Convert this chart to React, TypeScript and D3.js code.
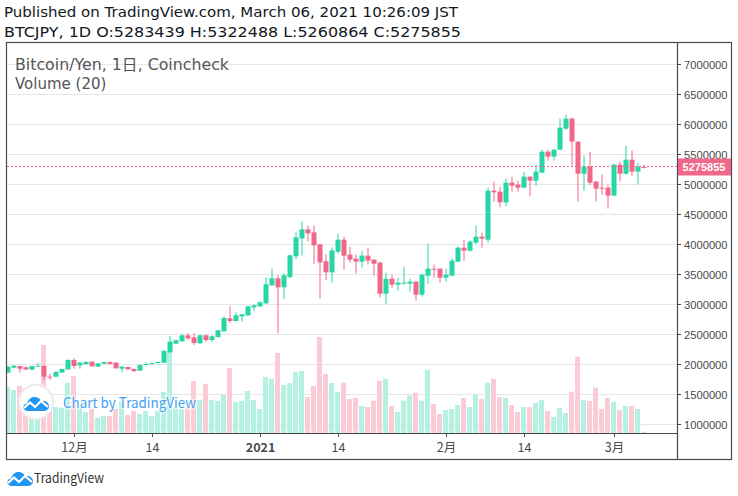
import { useEffect, useRef } from 'react';
import * as d3 from 'd3';

// BTCJPY daily, Coincheck, 2020-11-20 .. 2021-03-06
const startDay = new Date(Date.UTC(2020, 10, 20));
const endDay = new Date(Date.UTC(2021, 2, 6));

const opens = [
  1856000, 1939000, 1967000, 1944000, 1906000, 1956000, 1967000, 1789000, 1789000, 1856000, 1911000,
  2067000, 1978000, 2000000, 2039000, 1956000, 2006000, 2033000, 2022000, 1922000, 1950000, 1917000, 1889000, 1983000, 2000000, 2017000, 2022000,
  2194000, 2339000, 2378000, 2478000, 2444000, 2344000, 2478000, 2400000, 2450000, 2544000, 2761000, 2717000, 2794000, 2811000, 2944000,
  2961000, 3011000, 3311000, 3428000, 3278000, 3450000, 3794000, 4094000, 4244000, 4194000, 3994000, 3711000, 3528000, 3872000, 4072000,
  3822000, 3756000, 3706000, 3806000, 3739000, 3689000, 3172000, 3422000, 3322000, 3339000, 3339000, 3372000, 3156000, 3472000, 3589000, 3589000,
  3439000, 3472000, 3706000, 3939000, 3889000, 4022000, 4122000, 4072000, 4889000, 4872000, 4694000, 5022000, 4989000, 4939000, 5122000,
  5056000, 5189000, 5539000, 5456000, 5572000, 5922000, 6089000, 5706000, 5172000, 5289000, 5039000, 4939000, 4939000,
  4806000, 5322000, 5172000, 5406000, 5206000, 5283439,
];
const highs = [
  1962000, 1983000, 1970000, 1961000, 1970000, 2017000, 1983000, 1833000, 1883000, 1920000, 2078000,
  2100000, 2033000, 2050000, 2044000, 2017000, 2039000, 2039000, 2028000, 1967000, 1956000, 1922000, 1990000, 2033000, 2022000, 2044000, 2233000,
  2467000, 2411000, 2494000, 2511000, 2511000, 2480000, 2494000, 2478000, 2570000, 2794000, 2961000, 2861000, 2830000, 2970000, 2994000,
  3044000, 3444000, 3594000, 3478000, 3511000, 3820000, 4194000, 4378000, 4311000, 4311000, 4000000, 3828000, 3944000, 4172000, 4122000,
  3956000, 3822000, 3889000, 3939000, 3745000, 3706000, 3522000, 3489000, 3439000, 3622000, 3422000, 3380000, 3500000, 4006000, 3656000, 3595000,
  3589000, 3756000, 3956000, 4072000, 4056000, 4306000, 4189000, 4939000, 5039000, 4956000, 5089000, 5122000, 5056000, 5206000, 5130000,
  5322000, 5572000, 5572000, 5589000, 6089000, 6156000, 6106000, 5710000, 5472000, 5539000, 5050000, 5156000, 4989000,
  5339000, 5372000, 5639000, 5556000, 5356000, 5322488,
];
const lows = [
  1850000, 1928000, 1856000, 1894000, 1900000, 1950000, 1722000, 1733000, 1778000, 1850000, 1906000,
  1922000, 1922000, 1989000, 1956000, 1950000, 1989000, 1989000, 1922000, 1861000, 1906000, 1861000, 1883000, 1978000, 1990000, 2011000, 2017000,
  2190000, 2328000, 2367000, 2400000, 2317000, 2339000, 2367000, 2367000, 2440000, 2540000, 2683000, 2710000, 2706000, 2800000, 2878000,
  2955000, 3000000, 3300000, 2511000, 3078000, 3430000, 3744000, 3811000, 4044000, 3661000, 3094000, 3394000, 3361000, 3839000, 3572000,
  3689000, 3506000, 3606000, 3656000, 3472000, 3106000, 3000000, 3272000, 3222000, 3322000, 3206000, 3056000, 3122000, 3339000, 3439000, 3356000,
  3372000, 3460000, 3700000, 3722000, 3872000, 4000000, 3939000, 4022000, 4706000, 4611000, 4628000, 4872000, 4872000, 4930000, 4800000,
  4972000, 5180000, 5389000, 5389000, 5560000, 5906000, 5306000, 4706000, 4889000, 4989000, 4706000, 4822000, 4589000,
  4800000, 5039000, 5156000, 5139000, 4994000, 5260864,
];
const closes = [
  1956000, 1972000, 1922000, 1911000, 1967000, 1972000, 1789000, 1778000, 1867000, 1917000, 2067000,
  1967000, 2022000, 2033000, 1961000, 2011000, 2033000, 2000000, 1928000, 1956000, 1911000, 1883000, 1983000, 2000000, 2017000, 2033000, 2217000,
  2372000, 2394000, 2478000, 2428000, 2350000, 2478000, 2400000, 2461000, 2561000, 2767000, 2717000, 2811000, 2828000, 2961000, 2978000,
  3028000, 3328000, 3428000, 3278000, 3478000, 3811000, 4111000, 4244000, 4178000, 3978000, 3694000, 3528000, 3894000, 4072000, 3806000,
  3739000, 3706000, 3806000, 3722000, 3672000, 3172000, 3422000, 3322000, 3356000, 3356000, 3372000, 3156000, 3489000, 3589000, 3572000, 3439000,
  3489000, 3722000, 3939000, 3889000, 4039000, 4122000, 4089000, 4889000, 4861000, 4694000, 5022000, 4972000, 4939000, 5122000, 5056000,
  5206000, 5539000, 5456000, 5572000, 5939000, 6089000, 5706000, 5172000, 5289000, 5022000, 4922000, 4922000, 4806000,
  5322000, 5172000, 5406000, 5206000, 5289000, 5275855,
];
const volumes = [
  4630, 4330, 4730, 4530, 4330, 3330, 8830, 4030, 2630, 2560, 5060,
  5730, 2530, 2130, 2430, 1560, 1730, 1730, 2430, 3230, 1830, 2230, 1930, 2230, 1730, 2230, 4130,
  8160, 2530, 2430, 2530, 5230, 3330, 4930, 3330, 3230, 3830, 6530, 3130, 3230, 4230, 3330,
  2430, 5630, 5460, 8030, 4830, 5030, 6130, 6230, 3630, 4730, 9630, 5930, 5030, 4160, 5060,
  3430, 3530, 2730, 2630, 3260, 5260, 5460, 2730, 2130, 3260, 3760, 4060, 3260, 6360, 2930, 1930,
  2330, 2430, 2830, 3530, 2630, 3830, 3430, 5060, 5460, 3630, 3530, 2830, 2130, 2630, 2630,
  3030, 3330, 2230, 1630, 2530, 2030, 4160, 7660, 3330, 3230, 4560, 2430, 3530,
  3130, 2330, 2730, 2730, 2430, 160,
];

const priceTicks = [1000000, 1500000, 2000000, 2500000, 3000000, 3500000, 4000000, 4500000, 5000000, 5500000, 6000000, 6500000, 7000000];
const timeTicks = [
  { date: new Date(Date.UTC(2020, 11, 1)), label: '12月', bold: false },
  { date: new Date(Date.UTC(2020, 11, 14)), label: '14', bold: false },
  { date: new Date(Date.UTC(2021, 0, 1)), label: '2021', bold: true },
  { date: new Date(Date.UTC(2021, 0, 14)), label: '14', bold: false },
  { date: new Date(Date.UTC(2021, 1, 1)), label: '2月', bold: false },
  { date: new Date(Date.UTC(2021, 1, 14)), label: '14', bold: false },
  { date: new Date(Date.UTC(2021, 2, 1)), label: '3月', bold: false },
];
const lastPrice = 5275855;

const UP = '#26d6a6';
const DOWN = '#f0678a';
const UP_VOL = '#b4f1e2';
const DOWN_VOL = '#fbcbd6';
const FONT = '"Noto Sans CJK JP", "Noto Sans", sans-serif';
const WIDE = '"DejaVu Sans", "Noto Sans CJK JP", sans-serif';
const DIGITS = '"Liberation Sans", Arial, sans-serif';

const cloudPath = 'M5,16 C1.5,16 0,13.5 0.5,11.5 C1,9.5 2.5,8.6 4.2,8.6 C4.8,4.6 8,2 11.6,2 C14.6,2 17.2,3.8 18.3,6.4 C19,6.1 19.8,6 20.6,6 C23.8,6 26,8.6 26,11.3 C26,14 24,16 21,16 Z';

export default function App() {
  const svgRef = useRef<SVGSVGElement>(null);

  useEffect(() => {
    if (!svgRef.current) return;
    const width = 738;
    const height = 496;
    const left = 7, right = 677, top = 43, bottom = 433, outerRight = 731, outerBottom = 459;

    const svg = d3.select(svgRef.current);
    svg.selectAll('*').remove();
    svg.attr('width', width).attr('height', height).attr('viewBox', `0 0 ${width} ${height}`);

    const days = d3.utcDay.range(startDay, d3.utcDay.offset(endDay, 1));
    const data = days.map((d, i) => ({
      date: d, o: opens[i], h: highs[i], l: lows[i], c: closes[i], v: volumes[i],
    }));

    const x = d3.scaleUtc().domain([startDay, endDay]).range([8, 644]);
    const y = d3.scaleLinear().domain([1000000, 7000000]).range([424, 64]);
    const yv = d3.scaleLinear().domain([0, 10000]).range([433.3, 333.3]);

    svg.append('rect').attr('width', width).attr('height', height).attr('fill', '#fff');

    // header
    svg.append('text').attr('x', 4).attr('y', 17).attr('font-family', WIDE).attr('font-size', 14.6)
      .attr('textLength', 454).attr('lengthAdjust', 'spacingAndGlyphs')
      .attr('fill', '#131722').text('Published on TradingView.com, March 06, 2021 10:26:09 JST');
    svg.append('text').attr('x', 4).attr('y', 37).attr('font-family', WIDE).attr('font-size', 14.6)
      .attr('textLength', 457).attr('lengthAdjust', 'spacingAndGlyphs')
      .attr('fill', '#131722').text('BTCJPY, 1D O:5283439 H:5322488 L:5260864 C:5275855');

    // grid
    svg.append('g').selectAll('line').data(priceTicks).join('line')
      .attr('x1', left).attr('x2', right)
      .attr('y1', d => Math.round(y(d)) + 0.5).attr('y2', d => Math.round(y(d)) + 0.5)
      .attr('stroke', '#e6e6e6').attr('stroke-width', 1);

    svg.append('defs').append('clipPath').attr('id', 'plot-clip')
      .append('rect').attr('x', left).attr('y', top).attr('width', right - left).attr('height', bottom - top);

    const plot = svg.append('g').attr('clip-path', 'url(#plot-clip)');

    // volume
    plot.append('g').selectAll('rect').data(data).join('rect')
      .attr('x', d => x(d.date) - 3)
      .attr('width', 5)
      .attr('y', d => yv(d.v))
      .attr('height', d => yv(0) - yv(d.v))
      .attr('fill', d => (d.c >= d.o ? UP_VOL : DOWN_VOL));

    // candles
    const candle = plot.append('g').selectAll('g').data(data).join('g');
    candle.append('line')
      .attr('x1', d => x(d.date)).attr('x2', d => x(d.date))
      .attr('y1', d => y(d.h)).attr('y2', d => y(d.l))
      .attr('stroke', d => (d.c >= d.o ? UP : DOWN)).attr('stroke-width', 1);
    candle.append('rect')
      .attr('x', d => x(d.date) - 2.5)
      .attr('width', 5)
      .attr('y', d => y(Math.max(d.o, d.c)))
      .attr('height', d => Math.max(1, Math.abs(y(d.o) - y(d.c))))
      .attr('fill', d => (d.c >= d.o ? UP : DOWN));

    // last price line
    const lastY = Math.round(y(lastPrice)) - 0.5;
    plot.append('line')
      .attr('x1', left).attr('x2', right)
      .attr('y1', lastY).attr('y2', lastY)
      .attr('stroke', DOWN).attr('stroke-width', 1).attr('stroke-dasharray', '2,2');

    // legend
    svg.append('text').attr('x', 15).attr('y', 70).attr('font-family', WIDE).attr('font-size', 15)
      .attr('textLength', 214).attr('lengthAdjust', 'spacingAndGlyphs')
      .attr('fill', '#555').text('Bitcoin/Yen, 1日, Coincheck');
    svg.append('text').attr('x', 15).attr('y', 89).attr('font-family', WIDE).attr('font-size', 15)
      .attr('fill', '#555').text('Volume (20)');

    // watermark
    const wm = svg.append('g');
    wm.append('circle').attr('cx', 36).attr('cy', 402).attr('r', 17)
      .attr('fill', '#fff').attr('stroke', '#ececec').attr('stroke-width', 2);
    const wmLogo = wm.append('g').attr('transform', 'translate(23,395)');
    wmLogo.append('path').attr('d', cloudPath).attr('fill', '#2196f3');
    wmLogo.append('polyline').attr('points', '1,13 7,7.5 12,12 18,6 25,12')
      .attr('fill', 'none').attr('stroke', '#fff').attr('stroke-width', 2.2);
    wm.append('text').attr('x', 63).attr('y', 408).attr('font-family', FONT).attr('font-size', 14.5)
      .attr('textLength', 133).attr('lengthAdjust', 'spacingAndGlyphs')
      .attr('fill', '#45a2f2').attr('stroke', 'rgba(255,255,255,0.6)').attr('stroke-width', 3)
      .attr('paint-order', 'stroke').text('Chart by TradingView');

    // frames
    svg.append('rect').attr('x', left - 0.5).attr('y', top - 0.5)
      .attr('width', outerRight - left + 1).attr('height', outerBottom - top + 1)
      .attr('fill', 'none').attr('stroke', '#4a4a4a').attr('stroke-width', 1.2);
    svg.append('line').attr('x1', right + 0.5).attr('x2', right + 0.5).attr('y1', top).attr('y2', outerBottom)
      .attr('stroke', '#4a4a4a').attr('stroke-width', 1.2);
    svg.append('line').attr('x1', left).attr('x2', right).attr('y1', bottom + 0.5).attr('y2', bottom + 0.5)
      .attr('stroke', '#4a4a4a').attr('stroke-width', 1.2);

    // price axis
    const pa = svg.append('g').selectAll('g').data(priceTicks).join('g')
      .attr('transform', d => `translate(${right},${Math.round(y(d)) + 0.5})`);
    pa.append('line').attr('x1', 0).attr('x2', 4).attr('stroke', '#4a4a4a');
    pa.append('text').attr('x', 7).attr('dy', '0.36em').attr('font-family', DIGITS).attr('font-size', 11.2)
      .attr('fill', '#4a4a4a').text(d => String(d));

    svg.append('rect').attr('x', right + 1).attr('y', lastY - 8).attr('width', outerRight - right - 1).attr('height', 17)
      .attr('fill', DOWN);
    svg.append('text').attr('x', 704).attr('y', lastY + 0.5).attr('dy', '0.36em').attr('text-anchor', 'middle')
      .attr('font-family', DIGITS).attr('font-size', 11).attr('font-weight', 'bold').attr('fill', '#fff')
      .text(String(lastPrice));

    // time axis
    const ta = svg.append('g').selectAll('g').data(timeTicks).join('g')
      .attr('transform', d => `translate(${Math.round(x(d.date)) + 0.5},${bottom})`);
    ta.append('line').attr('y1', 0).attr('y2', 4).attr('stroke', '#4a4a4a');
    ta.append('text').attr('y', 19).attr('text-anchor', 'middle').attr('font-family', FONT).attr('font-size', 12.5)
      .attr('font-weight', d => (d.bold ? 'bold' : 'normal')).attr('fill', '#4a4a4a').text(d => d.label);

    // footer logo
    const logo = svg.append('g').attr('transform', 'translate(7,470)');
    logo.append('path').attr('d', cloudPath).attr('fill', '#2196f3');
    logo.append('polyline').attr('points', '1,13 7,7.5 12,12 18,6 25,12')
      .attr('fill', 'none').attr('stroke', '#fff').attr('stroke-width', 2.2);
    svg.append('text').attr('x', 34).attr('y', 483).attr('font-family', FONT).attr('font-size', 13.5)
      .attr('textLength', 70).attr('lengthAdjust', 'spacingAndGlyphs')
      .attr('fill', '#333').text('TradingView');
  }, []);

  return (
    <div style={{ position: 'absolute', left: 0, top: 0 }}>
      <svg ref={svgRef} style={{ display: 'block' }}></svg>
    </div>
  );
}
